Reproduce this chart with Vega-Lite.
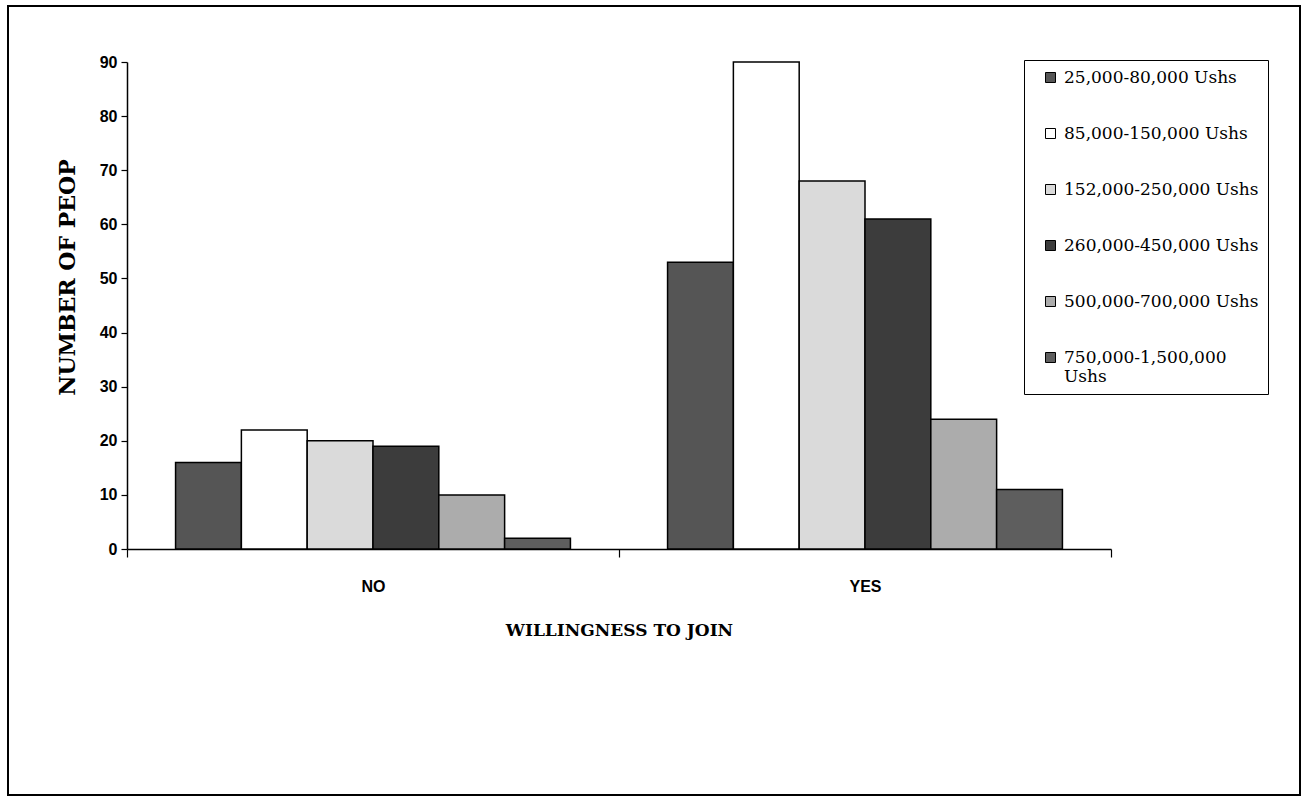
{
  "$schema": "https://vega.github.io/schema/vega-lite/v6.json",
  "autosize": {"type": "none"},
  "width": 1292,
  "height": 789,
  "padding": {"left": 8, "top": 6, "right": 8, "bottom": 2},
  "background": "white",
  "config": {
    "view": {"stroke": "black", "strokeWidth": 2},
    "axis": {"grid": false}
  },
  "data": {
    "values": [
      {"group": "NO", "income": "25,000-80,000 Ushs", "count": 16},
      {"group": "NO", "income": "85,000-150,000 Ushs", "count": 22},
      {"group": "NO", "income": "152,000-250,000 Ushs", "count": 20},
      {"group": "NO", "income": "260,000-450,000 Ushs", "count": 19},
      {"group": "NO", "income": "500,000-700,000 Ushs", "count": 10},
      {"group": "NO", "income": "750,000-1,500,000 Ushs", "count": 2},
      {"group": "YES", "income": "25,000-80,000 Ushs", "count": 53},
      {"group": "YES", "income": "85,000-150,000 Ushs", "count": 90},
      {"group": "YES", "income": "152,000-250,000 Ushs", "count": 68},
      {"group": "YES", "income": "260,000-450,000 Ushs", "count": 61},
      {"group": "YES", "income": "500,000-700,000 Ushs", "count": 24},
      {"group": "YES", "income": "750,000-1,500,000 Ushs", "count": 11}
    ]
  },
  "mark": {"type": "bar", "stroke": "black", "strokeWidth": 1.5},
  "encoding": {
    "x": {
      "field": "group",
      "type": "nominal",
      "sort": ["NO", "YES"],
      "scale": {"domain": ["NO", "YES"], "range": [119, 1103], "paddingInner": 0, "paddingOuter": 0},
      "axis": {
        "orient": "bottom",
        "offset": -246,
        "title": "WILLINGNESS TO JOIN",
        "titleFont": "DejaVu Serif",
        "titleFontWeight": "bold",
        "titleFontSize": 17,
        "titleColor": "black",
        "titleX": 611,
        "titleY": 81,
        "titleBaseline": "middle",
        "titleAlign": "center",
        "labelAngle": 0,
        "labelFont": "Liberation Sans",
        "labelFontWeight": "bold",
        "labelFontSize": 16,
        "labelColor": "black",
        "labelPadding": 21,
        "tickBand": "extent",
        "tickSize": 8,
        "tickColor": "black",
        "tickWidth": 1.2,
        "domainColor": "black",
        "domainWidth": 1.5
      }
    },
    "xOffset": {
      "field": "income",
      "type": "nominal",
      "sort": ["25,000-80,000 Ushs", "85,000-150,000 Ushs", "152,000-250,000 Ushs", "260,000-450,000 Ushs", "500,000-700,000 Ushs", "750,000-1,500,000 Ushs"],
      "scale": {"paddingInner": 0, "paddingOuter": 0.738}
    },
    "y": {
      "field": "count",
      "type": "quantitative",
      "scale": {"domain": [0, 90], "range": [543, 56], "nice": false, "zero": true},
      "axis": {
        "orient": "left",
        "offset": -119,
        "values": [0, 10, 20, 30, 40, 50, 60, 70, 80, 90],
        "title": "NUMBER OF PEOP",
        "titleFont": "DejaVu Serif",
        "titleFontWeight": "bold",
        "titleFontSize": 22,
        "titleColor": "black",
        "titleX": -60,
        "titleY": 271,
        "titleAngle": -90,
        "titleBaseline": "middle",
        "titleAlign": "center",
        "labelFont": "Liberation Sans",
        "labelFontWeight": "bold",
        "labelFontSize": 16,
        "labelColor": "black",
        "labelPadding": 4,
        "tickSize": 6,
        "tickColor": "black",
        "tickWidth": 1.2,
        "domainColor": "black",
        "domainWidth": 1.5
      }
    },
    "fill": {
      "field": "income",
      "type": "nominal",
      "sort": ["25,000-80,000 Ushs", "85,000-150,000 Ushs", "152,000-250,000 Ushs", "260,000-450,000 Ushs", "500,000-700,000 Ushs", "750,000-1,500,000 Ushs"],
      "scale": {
        "domain": ["25,000-80,000 Ushs", "85,000-150,000 Ushs", "152,000-250,000 Ushs", "260,000-450,000 Ushs", "500,000-700,000 Ushs", "750,000-1,500,000 Ushs"],
        "range": ["#555555", "#ffffff", "#dadada", "#3c3c3c", "#acacac", "#5e5e5e"]
      },
      "legend": {
        "title": null,
        "orient": "none",
        "legendX": 1016,
        "legendY": 54,
        "fillColor": "white",
        "strokeColor": "black",
        "padding": 9,
        "symbolOffset": 9,
        "symbolType": "square",
        "symbolSize": 100,
        "symbolStrokeColor": "black",
        "symbolStrokeWidth": 1,
        "labelFont": "DejaVu Serif",
        "labelFontSize": 17,
        "labelColor": "black",
        "labelOffset": 5,
        "labelLimit": 300,
        "rowPadding": 38,
        "labelExpr": "datum.label == '750,000-1,500,000 Ushs' ? ['750,000-1,500,000', 'Ushs'] : datum.label"
      }
    }
  }
}
